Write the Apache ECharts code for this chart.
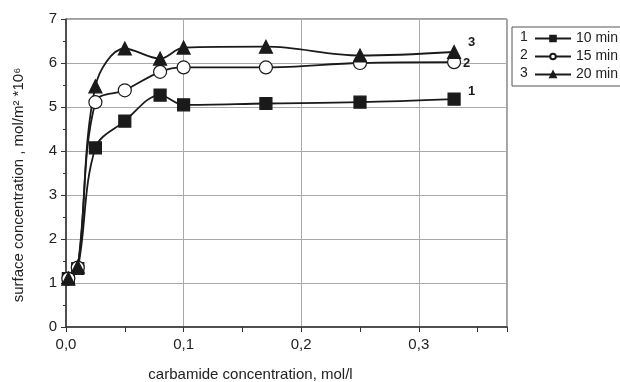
<!DOCTYPE html>
<html><head><meta charset="utf-8">
<script src="https://cdn.jsdelivr.net/npm/echarts@6/dist/echarts.min.js"></script>
<style>html,body{margin:0;padding:0;background:#fff}#c{width:620px;height:382px}</style>
</head><body><div id="c"></div>
<script>
const xValues = [0.002, 0.01, 0.025, 0.05, 0.08, 0.1, 0.17, 0.25, 0.33];
const series10 = [1.1, 1.33, 4.07, 4.68, 5.27, 5.05, 5.08, 5.11, 5.18];
const series15 = [1.1, 1.35, 5.11, 5.38, 5.8, 5.9, 5.9, 6.0, 6.02];
const series20 = [1.1, 1.37, 5.47, 6.33, 6.1, 6.35, 6.37, 6.17, 6.25];
const seriesNames = ['10 min', '15 min', '20 min'];
const curveNumbers = ['1', '2', '3'];

const font = 'Liberation Sans, Arial, sans-serif';
const ink = '#1a1a1a';
const pair = arr => xValues.map((x, i) => [x, arr[i]]);

const chart = echarts.init(document.getElementById('c'), null, {renderer: 'canvas'});
const mk = (name, arr, symbol, size, fill, num, off) => ({
  name, type: 'line', xAxisIndex: 0, yAxisIndex: 0,
  data: pair(arr), smooth: 0.35, symbol, symbolSize: size,
  lineStyle: {color: ink, width: 1.8},
  itemStyle: {color: fill, borderColor: ink, borderWidth: 1.2},
  endLabel: {show: true, formatter: num, color: ink, fontFamily: font, fontSize: 13, fontWeight: 'bold', distance: 0, offset: off},
  animation: false, z: 3
});
chart.setOption({
  animation: false,
  grid: {left: 66, right: 113, top: 19, bottom: 55, show: true, borderColor: '#444', borderWidth: 1,
    containLabel: false, outerBoundsMode: 'none'},
  xAxis: [{
    type: 'value', min: 0, max: 0.375, interval: 0.05,
    axisLine: {lineStyle: {color: '#333', width: 1.5}},
    axisTick: {show: true, length: 5, lineStyle: {color: '#333'}},
    splitLine: {show: false},
    axisLabel: {color: '#222', fontFamily: font, fontSize: 15, margin: 10,
      formatter: v => (Math.abs(v * 10 - Math.round(v * 10)) < 1e-6) ? v.toFixed(1).replace('.', ',') : ''},
    name: 'carbamide concentration, mol/l', nameLocation: 'middle', nameGap: 40,
    nameTextStyle: {color: '#222', fontFamily: font, fontSize: 15, padding: [0, 72, 0, 0]}
  }, {
    type: 'value', min: 0, max: 0.375, interval: 0.1, position: 'bottom',
    axisLine: {show: false}, axisTick: {show: false}, axisLabel: {show: false},
    splitLine: {show: true, lineStyle: {color: '#aaa', width: 1}}
  }],
  yAxis: {
    type: 'value', min: 0, max: 7, interval: 1,
    axisLine: {show: true, lineStyle: {color: '#333', width: 1.5}},
    axisTick: {show: true, length: 5, lineStyle: {color: '#333'}},
    minorTick: {show: true, splitNumber: 2, length: 3, lineStyle: {color: '#333'}},
    splitLine: {show: true, lineStyle: {color: '#aaa', width: 1}},
    axisLabel: {color: '#222', fontFamily: font, fontSize: 15, margin: 9},
    name: 'surface concentration , mol/m² *10⁶', nameLocation: 'middle', nameGap: 40,
    nameTextStyle: {color: '#222', fontFamily: font, fontSize: 15, padding: [0, 24, 0, 0]}
  },
  legend: {
    orient: 'vertical', left: 512, top: 27, padding: [4, 8, 4, 22],
    borderColor: '#555', borderWidth: 1, itemGap: 3, itemWidth: 36, itemHeight: 7,
    textStyle: {color: '#222', fontFamily: font, fontSize: 14, lineHeight: 15},
    data: seriesNames
  },
  graphic: curveNumbers.map((n, i) => ({
    type: 'text', left: 520, top: 30 + i * 18,
    style: {text: n, fill: '#222', font: '14px ' + font}
  })),
  series: [
    mk(seriesNames[0], series10, 'rect', 12, ink, curveNumbers[0], [14, -8]),
    mk(seriesNames[1], series15, 'circle', 13, '#fff', curveNumbers[1], [9, 1]),
    mk(seriesNames[2], series20, 'triangle', 13, ink, curveNumbers[2], [14, -10])
  ]
});
</script></body></html>
